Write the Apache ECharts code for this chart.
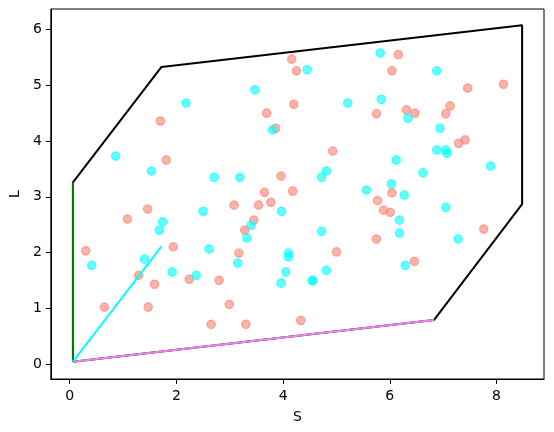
<!DOCTYPE html>
<html>
<head>
<meta charset="utf-8">
<script src="https://cdn.jsdelivr.net/npm/echarts@6/dist/echarts.min.js"></script>
<style>
  html, body { margin: 0; padding: 0; background: #fff; }
  #chart { width: 554px; height: 432px; }
</style>
</head>
<body>
<div id="chart"></div>
<script>
// salmon group
const salmonS = [4.16, 4.25, 4.20, 1.70, 3.69, 3.86, 1.81, 3.96, 3.65, 4.18,
  6.16, 6.04, 7.46, 8.13, 5.75, 6.31, 6.47, 7.13, 7.05, 7.29,
  7.41, 4.93, 6.04, 5.77, 5.88, 6.01, 7.76, 5.75, 5.00, 6.46,
  4.33, 3.08, 3.54, 3.77, 1.46, 1.08, 3.45, 3.28, 0.30, 1.94,
  3.17, 1.29, 1.59, 2.24, 2.80, 0.65, 1.47, 2.99, 2.65, 3.30];
const salmonL = [5.47, 5.26, 4.66, 4.36, 4.50, 4.23, 3.66, 3.37, 3.08, 3.10,
  5.55, 5.26, 4.95, 5.02, 4.49, 4.56, 4.50, 4.63, 4.49, 3.96,
  4.02, 3.82, 3.07, 2.93, 2.76, 2.72, 2.42, 2.24, 2.01, 1.84,
  0.78, 2.85, 2.85, 2.90, 2.78, 2.60, 2.58, 2.40, 2.03, 2.10,
  1.99, 1.59, 1.43, 1.52, 1.50, 1.02, 1.02, 1.07, 0.71, 0.71];

// cyan group
const cyanS = [4.45, 3.47, 2.18, 3.80, 0.86, 1.53, 2.71, 3.19, 5.82, 6.88,
  5.21, 5.84, 6.34, 6.94, 6.88, 7.05, 7.07, 7.89, 6.12, 4.81,
  4.72, 6.62, 5.56, 6.03, 6.27, 6.18, 6.18, 7.05, 7.28, 4.72,
  4.81, 4.55, 4.55, 6.29, 3.97, 2.50, 1.74, 1.68, 3.40, 3.32,
  0.41, 1.40, 2.61, 3.15, 4.10, 4.10, 1.92, 2.37, 4.05, 3.96];
const cyanL = [5.28, 4.92, 4.68, 4.20, 3.73, 3.46, 3.35, 3.35, 5.58, 5.26,
  4.68, 4.75, 4.41, 4.23, 3.84, 3.84, 3.78, 3.55, 3.66, 3.46,
  3.35, 3.43, 3.12, 3.23, 3.03, 2.58, 2.35, 2.81, 2.24, 2.38,
  1.68, 1.50, 1.49, 1.77, 2.74, 2.74, 2.55, 2.40, 2.49, 2.26,
  1.77, 1.88, 2.06, 1.81, 1.99, 1.92, 1.65, 1.59, 1.65, 1.45];

// outline polygon
const hullS = [0.06, 6.83, 8.48, 8.48, 1.72, 0.06, 0.06];
const hullL = [0.04, 0.79, 2.87, 6.08, 5.33, 3.26, 0.04];

// vectors from the corner
const vecGreenS = [0.06, 0.06];
const vecGreenL = [0.04, 3.26];
const vecCyanS = [0.06, 1.72];
const vecCyanL = [0.04, 2.11];
const vecVioletS = [0.06, 6.83];
const vecVioletL = [0.04, 0.79];

const xTicks = [0, 2, 4, 6, 8];
const yTicks = [0, 1, 2, 3, 4, 5, 6];

const zip = (a, b) => a.map((v, i) => [v, b[i]]);

const font = 'DejaVu Sans';
const axisCommon = {
  type: 'value',
  nameLocation: 'middle',
  nameTextStyle: { fontFamily: font, fontSize: 14, color: '#000' },
  axisLine: { show: true, onZero: false, lineStyle: { color: '#000', width: 1 } },
  splitLine: { show: false }
};

const chart = echarts.init(document.getElementById('chart'), null, { renderer: 'canvas' });
chart.setOption({
  animation: false,
  backgroundColor: '#fff',
  grid: {
    left: 48, right: 10, top: 9, bottom: 53,
    show: true, borderColor: '#000', borderWidth: 1, backgroundColor: '#fff'
  },
  xAxis: Object.assign({}, axisCommon, {
    name: 'S',
    nameGap: 31,
    min: -0.355,
    max: 8.89,
    axisTick: { show: true, length: 5, lineStyle: { color: '#000' }, customValues: xTicks },
    axisLabel: { fontFamily: font, fontSize: 14, color: '#000', margin: 10, customValues: xTicks }
  }),
  yAxis: Object.assign({}, axisCommon, {
    name: 'L',
    nameGap: 28,
    min: -0.27,
    max: 6.37,
    axisTick: { show: true, length: 5, lineStyle: { color: '#000' }, customValues: yTicks },
    axisLabel: { fontFamily: font, fontSize: 14, color: '#000', margin: 9, customValues: yTicks }
  }),
  series: [
    {
      type: 'scatter',
      data: zip(salmonS, salmonL),
      symbolSize: 8.3,
      itemStyle: { color: '#FA8072', opacity: 0.6, borderColor: '#FA8072', borderWidth: 1.4 }
    },
    {
      type: 'scatter',
      data: zip(cyanS, cyanL),
      symbolSize: 8.3,
      itemStyle: { color: '#00FFFF', opacity: 0.6, borderColor: '#00FFFF', borderWidth: 1.4 }
    },
    {
      type: 'line',
      data: zip(hullS, hullL),
      showSymbol: false,
      lineStyle: { color: '#000', width: 2 }
    },
    {
      type: 'line',
      data: zip(vecGreenS, vecGreenL),
      showSymbol: false,
      lineStyle: { color: '#008000', width: 2 }
    },
    {
      type: 'line',
      data: zip(vecCyanS, vecCyanL),
      showSymbol: false,
      lineStyle: { color: '#00FFFF', width: 2 }
    },
    {
      type: 'line',
      data: zip(vecVioletS, vecVioletL),
      showSymbol: false,
      lineStyle: { color: '#EE82EE', width: 2 }
    }
  ]
});
</script>
</body>
</html>
